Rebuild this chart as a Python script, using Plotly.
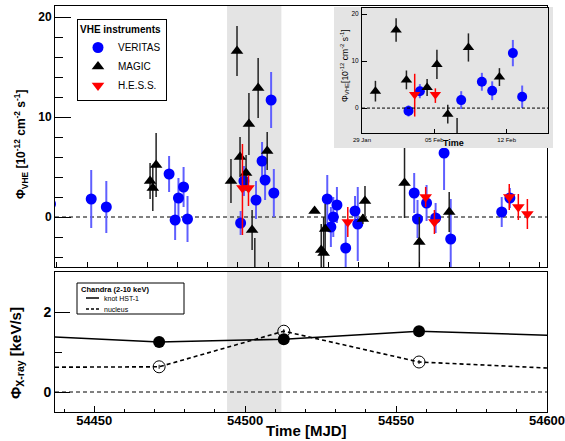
import numpy as np
import pandas as pd
import plotly.graph_objects as go

# ---------------- data ----------------
veritas_mjd = [54435.5, 54449.0, 54454.0, 54474.8, 54476.8, 54477.9, 54479.6, 54480.9,
               54498.5, 54499.6, 54503.6, 54505.6, 54506.6, 54508.6, 54509.5,
               54527.2, 54528.4, 54529.2, 54530.4, 54533.3, 54536.4, 54537.3,
               54556.0, 54557.1, 54560.1, 54563.1, 54565.9, 54568.1, 54585.0, 54587.7]
veritas_flux = [1.3, 1.8, 1.0, 4.3, -0.3, 1.9, 3.0, -0.2,
                -0.6, 3.6, 1.7, 5.6, 3.7, 11.7, 2.4,
                1.8, -1.0, 0.0, 1.2, -3.1, 0.6, -0.7,
                2.4, -0.2, 1.4, -0.1, 6.4, -2.2, 0.5, 1.9]
veritas_err = [2.0, 2.9, 2.6, 1.8, 2.0, 2.0, 2.0, 2.3,
               1.2, 1.5, 1.9, 1.9, 2.0, 2.8, 2.4,
               2.4, 2.0, 2.0, 1.8, 2.5, 1.5, 3.7,
               2.0, 1.9, 1.8, 1.5, 3.7, 4.0, 1.5, 1.0]

magic_mjd = [54468.5, 54469.4, 54470.5,
             54495.3, 54497.3, 54498.3, 54500.3, 54501.25, 54502.3, 54503.2, 54504.3, 54507.3,
             54523.0, 54525.2, 54526.0, 54526.5, 54539.0, 54539.7, 54552.8, 54557.7, 54567.6]
magic_flux = [3.6, 2.9, 5.2,
              3.6, 16.6, 6.0, 4.4, 9.3, -1.3, -6.5, 12.9, 6.6,
              0.6, -3.3, -3.6, -1.2, -0.2, 1.6, 3.4, -2.5, 0.5]
magic_err = [1.8, 2.3, 3.2,
             2.2, 2.5, 2.0, 1.8, 3.1, 2.0, 4.4, 3.0, 1.9,
             0.0, 2.6, 3.6, 2.5, 0.5, 1.5, 3.5, 2.5, 2.0]

hess_mjd = [54499.1, 54501.1, 54534.0, 54559.8, 54562.7, 54587.5, 54590.5, 54593.5]
hess_flux = [2.9, 2.9, -0.5, 2.0, -0.5, 2.0, 1.0, 0.3]
hess_err_up = [4.4, 1.3, 1.5, 1.0, 1.2, 1.3, 1.3, 1.5]
hess_err_down = [4.7, 1.8, 1.5, 1.0, 1.2, 1.3, 1.3, 1.5]

chandra_mjd = [54471.5, 54512.8, 54557.6]
knot_flux = [1.25, 1.32, 1.52]
nucleus_flux = [0.63, 1.52, 0.75]
nucleus_err = [0.05, 0.05, 0.05]
# the Chandra trends continue past the plotted window
chandra_edge_mjd = [54437.0, 54600.0]
knot_edge = [1.375, 1.42]
nucleus_edge = [0.62, 0.60]

flare_start, flare_end = 54494.0, 54512.0
mjd_range = [54437.0, 54600.0]

# ---------------- helpers ----------------
W, H = 565, 441
FONT = "Liberation Sans, Arial, sans-serif"


def fx(p):
    return p / W


def fy(p):
    return 1 - p / H


def to_date(m):
    return pd.to_datetime(np.atleast_1d(np.asarray(m, dtype=float)) - 40587.0, unit="D")


def in_flare(mjd, *cols):
    idx = [i for i, m in enumerate(mjd) if flare_start <= m <= flare_end]
    return [[c[i] for i in idx] for c in (mjd,) + cols]


V_COL, V_ERR = "#0000ff", "#5f5fff"
M_COL = "black"
H_COL = "#ff0000"
GRAY = "#e4e4e4"

fig = go.Figure()

# ---------------- top panel ----------------
fig.add_trace(go.Scatter(
    x=veritas_mjd, y=veritas_flux, mode="markers", name="VERITAS",
    marker=dict(symbol="circle", size=11, color=V_COL),
    error_y=dict(type="data", array=veritas_err, color=V_ERR, thickness=2, width=0),
    xaxis="x", yaxis="y", legend="legend"))
fig.add_trace(go.Scatter(
    x=magic_mjd, y=magic_flux, mode="markers", name="MAGIC",
    marker=dict(symbol="triangle-up", size=11, color=M_COL),
    error_y=dict(type="data", array=magic_err, color="#222222", thickness=1.5, width=0),
    xaxis="x", yaxis="y", legend="legend"))
fig.add_trace(go.Scatter(
    x=hess_mjd, y=hess_flux, mode="markers", name="H.E.S.S.",
    marker=dict(symbol="triangle-down", size=11, color=H_COL),
    error_y=dict(type="data", array=hess_err_up, arrayminus=hess_err_down,
                 color=H_COL, thickness=1.5, width=0),
    xaxis="x", yaxis="y", legend="legend"))

# ---------------- bottom panel ----------------
fig.add_trace(go.Scatter(
    x=[chandra_edge_mjd[0]] + chandra_mjd + [chandra_edge_mjd[1]],
    y=[knot_edge[0]] + knot_flux + [knot_edge[1]],
    mode="lines", line=dict(color="black", width=1.6), showlegend=False,
    xaxis="x2", yaxis="y2"))
fig.add_trace(go.Scatter(
    x=[chandra_edge_mjd[0]] + chandra_mjd + [chandra_edge_mjd[1]],
    y=[nucleus_edge[0]] + nucleus_flux + [nucleus_edge[1]],
    mode="lines", line=dict(color="black", width=1.6, dash="4px,3px"), showlegend=False,
    xaxis="x2", yaxis="y2"))
fig.add_trace(go.Scatter(
    x=chandra_mjd, y=knot_flux, mode="markers", showlegend=False,
    marker=dict(symbol="circle", size=12, color="black"),
    xaxis="x2", yaxis="y2"))
fig.add_trace(go.Scatter(
    x=chandra_mjd, y=nucleus_flux, mode="markers", showlegend=False,
    marker=dict(symbol="circle-open", size=12, color="black", line=dict(width=1)),
    error_y=dict(type="data", array=nucleus_err, color="black", thickness=1, width=0),
    xaxis="x2", yaxis="y2"))

# ---------------- inset pad (covers main plot) ----------------
fig.add_trace(go.Scatter(
    x=[0, 1, 1, 0, 0], y=[0, 0, 1, 1, 0], mode="lines", fill="toself",
    fillcolor=GRAY, line=dict(width=0, color=GRAY), hoverinfo="skip",
    showlegend=False, xaxis="x3", yaxis="y3"))

# ---------------- inset: flare zoom ----------------
vm, vf, ve = in_flare(veritas_mjd, veritas_flux, veritas_err)
mm, mf, me = in_flare(magic_mjd, magic_flux, magic_err)
hm, hf, hu, hd = in_flare(hess_mjd, hess_flux, hess_err_up, hess_err_down)
fig.add_trace(go.Scatter(
    x=to_date(vm), y=vf, mode="markers", showlegend=False,
    marker=dict(symbol="circle", size=10, color=V_COL),
    error_y=dict(type="data", array=ve, color=V_ERR, thickness=2, width=0),
    xaxis="x4", yaxis="y4"))
fig.add_trace(go.Scatter(
    x=to_date(mm), y=mf, mode="markers", showlegend=False,
    marker=dict(symbol="triangle-up", size=10, color=M_COL),
    error_y=dict(type="data", array=me, color="#222222", thickness=1.5, width=0),
    xaxis="x4", yaxis="y4"))
fig.add_trace(go.Scatter(
    x=to_date(hm), y=hf, mode="markers", showlegend=False,
    marker=dict(symbol="triangle-down", size=10, color=H_COL),
    error_y=dict(type="data", array=hu, arrayminus=hd, color=H_COL, thickness=1.5, width=0),
    xaxis="x4", yaxis="y4"))

# ---------------- axes ----------------
frame = dict(showline=True, linecolor="black", linewidth=1, mirror=True, automargin=False,
             showgrid=False, zeroline=False, ticks="inside", tickcolor="black")


def bold(s):
    return dict(family=FONT, size=s, color="black", weight="bold")


inset_start = to_date(flare_start)[0]
inset_end = to_date(flare_end)[0]

layout = dict(
    template="none",
    width=W, height=H, margin=dict(l=0, r=0, t=0, b=0, pad=0, autoexpand=False),
    paper_bgcolor="white", plot_bgcolor="rgba(0,0,0,0)",
    font=dict(family=FONT, color="black"),
    xaxis=dict(frame, domain=[fx(55), fx(547)], range=mjd_range, anchor="y",
               showticklabels=False, tickmode="linear", tick0=54447.6, dtick=10, ticklen=5),
    yaxis=dict(frame, domain=[fy(267), fy(6)], range=[-5, 21.1], anchor="x",
               tickmode="linear", tick0=0, dtick=10, ticklen=16, tickfont=bold(12),
               minor=dict(dtick=2, ticklen=8, ticks="inside", tickcolor="black")),
    xaxis2=dict(frame, domain=[fx(55), fx(547)], range=mjd_range, anchor="y2",
                tickmode="linear", tick0=54450, dtick=50, ticklen=6, tickfont=bold(13),
                tickformat="d", ticklabeloverflow="allow", ticklabelstandoff=-4,
                minor=dict(dtick=10, ticklen=3, ticks="inside", tickcolor="black")),
    yaxis2=dict(frame, domain=[fy(412), fy(272)], range=[-0.5, 3.0], anchor="x2",
                tickmode="linear", tick0=0, dtick=2, ticklen=15, tickfont=bold(14),
                minor=dict(dtick=1, ticklen=7, ticks="inside", tickcolor="black")),
    xaxis3=dict(domain=[fx(334), fx(553)], range=[0, 1], anchor="y3", visible=False,
                fixedrange=True),
    yaxis3=dict(domain=[fy(148), fy(7)], range=[0, 1], anchor="x3", visible=False,
                fixedrange=True),
    xaxis4=dict(frame, type="date", domain=[fx(362), fx(548)],
                range=[inset_start, inset_end],
                anchor="y4", tickformat="%d %b", tick0=inset_start,
                dtick=7 * 86400000, ticklen=4, tickfont=dict(family=FONT, size=6, color="black"),
                ticklabelstandoff=1),
    yaxis4=dict(frame, domain=[fy(133), fy(8)], range=[-5.3, 21.3], anchor="x4",
                tickmode="linear", tick0=0, dtick=10, ticklen=5,
                tickfont=dict(family=FONT, size=6.5, color="black"), ticklabelstandoff=1),
    legend=dict(x=fx(77), y=fy(19), xanchor="left", yanchor="top",
                bordercolor="black", borderwidth=1, bgcolor="white",
                font=dict(family=FONT, size=10, color="black"),
                title=dict(text="<b>VHE instruments</b>", font=dict(family=FONT, size=10)),
                itemwidth=30, tracegroupgap=0),
)
fig.update_layout(**layout)

# ---------------- shapes: flare band & zero lines ----------------
for ya in ("y", "y2"):
    xa = "x" if ya == "y" else "x2"
    fig.add_shape(type="rect", xref=xa, yref=f"{ya} domain", x0=flare_start, x1=flare_end,
                  y0=0, y1=1, fillcolor=GRAY, line=dict(width=0), layer="below")
    fig.add_shape(type="line", xref=f"{xa} domain", yref=ya, x0=0, x1=1, y0=0, y1=0,
                  line=dict(color="black", width=1, dash="4px,3px"), layer="below")
fig.add_shape(type="line", xref="x4 domain", yref="y4", x0=0, x1=1, y0=0, y1=0,
              line=dict(color="black", width=1, dash="3px,2px"))

# ---------------- Chandra legend (drawn by hand) ----------------
fig.add_shape(type="rect", xref="paper", yref="paper", x0=fx(77), x1=fx(184),
              y0=fy(314), y1=fy(283), line=dict(color="black", width=1), fillcolor="white")
fig.add_shape(type="line", xref="paper", yref="paper", x0=fx(86), x1=fx(99),
              y0=fy(298), y1=fy(298), line=dict(color="black", width=1.5))
fig.add_shape(type="line", xref="paper", yref="paper", x0=fx(86), x1=fx(99),
              y0=fy(309), y1=fy(309), line=dict(color="black", width=1.5, dash="3px,2px"))

ann = []
ann.append(dict(text="<b>Chandra (2-10 keV)</b>", x=fx(79), y=fy(289), xanchor="left",
                yanchor="middle", font=dict(family=FONT, size=7.5)))
ann.append(dict(text="knot HST-1", x=fx(102), y=fy(298.5), xanchor="left", yanchor="middle",
                font=dict(family=FONT, size=7)))
ann.append(dict(text="nucleus", x=fx(102), y=fy(309), xanchor="left", yanchor="middle",
                font=dict(family=FONT, size=7)))
# axis titles
ann.append(dict(text="Φ<sub>VHE</sub> [10<sup>-12</sup> cm<sup>-2</sup> s<sup>-1</sup>]",
                x=fx(21), y=fy(144), textangle=-90, xanchor="center", yanchor="middle",
                font=bold(12)))
ann.append(dict(text="Φ<sub>X-ray</sub> [keV/s]", x=fx(16), y=fy(353), textangle=-90,
                xanchor="center", yanchor="middle", font=bold(15)))
ann.append(dict(text="Time [MJD]", x=fx(306), y=fy(440.5), xanchor="center", yanchor="bottom",
                font=bold(15)))
ann.append(dict(text="Time", x=fx(453), y=fy(143), xanchor="center", yanchor="middle",
                font=bold(9)))
ann.append(dict(text="Φ<sub>VHE</sub>[10<sup>-12</sup> cm<sup>-2</sup> s<sup>-1</sup>]",
                x=fx(345), y=fy(66), textangle=-90, xanchor="center", yanchor="middle",
                font=dict(family=FONT, size=8.5)))
for a in ann:
    a.update(xref="paper", yref="paper", showarrow=False)
fig.update_layout(annotations=ann)

fig.write_html("out.html", config={"displayModeBar": False},
               post_script="document.body.style.margin='0';document.body.style.overflow='hidden';")
